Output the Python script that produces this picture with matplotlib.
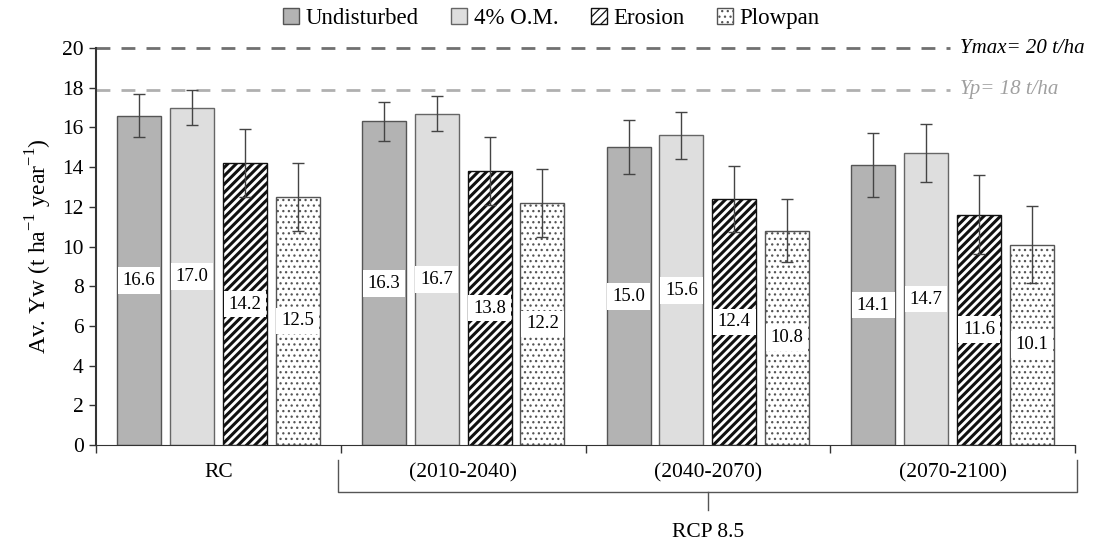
import numpy as np
import matplotlib
matplotlib.use("Agg")
import matplotlib.pyplot as plt

plt.rcParams["font.family"] = ["Liberation Serif", "DejaVu Serif"]
plt.rcParams["mathtext.fontset"] = "custom"
plt.rcParams["mathtext.rm"] = "Liberation Serif"

groups = ["RC", "(2010-2040)", "(2040-2070)", "(2070-2100)"]
series = ["Undisturbed", "4% O.M.", "Erosion", "Plowpan"]
undisturbed = [16.6, 16.3, 15.0, 14.1]
organic = [17.0, 16.7, 15.6, 14.7]
erosion = [14.2, 13.8, 12.4, 11.6]
plowpan = [12.5, 12.2, 10.8, 10.1]
err_und = [1.1, 1.0, 1.35, 1.6]
err_om = [0.9, 0.9, 1.2, 1.45]
err_ero = [1.7, 1.7, 1.65, 2.0]
err_plow = [1.7, 1.7, 1.6, 1.95]

values = [undisturbed, organic, erosion, plowpan]
errors = [err_und, err_om, err_ero, err_plow]
fills = ["#b3b3b3", "#dedede", "white", "white"]
edges = ["#555555", "#666666", "#111111", "#555555"]
hatches = [None, None, "////", "..."]
hatch_lw = [1.0, 1.0, 2.2, 0.9]

fig = plt.figure(figsize=(10.94, 5.45), dpi=100)
ax = fig.add_axes([0.0878, 0.1835, 0.8948, 0.7284])

x = np.arange(len(groups))
step = 0.216
width = 0.18
handles = []
for k in range(4):
    plt.rcParams["hatch.linewidth"] = hatch_lw[k]
    pos = x + (k - 1.5) * step
    b = ax.bar(pos, values[k], width, color=fills[k], edgecolor=edges[k],
               hatch=hatches[k], linewidth=1.0, label=series[k], zorder=2)
    handles.append(b)
    ax.errorbar(pos, values[k], yerr=errors[k], fmt="none", ecolor="#444444",
                elinewidth=1.0, capsize=4, capthick=1.0, zorder=3)
    for px, v in zip(pos, values[k]):
        ax.text(px, v / 2, f"{v:.1f}", ha="center", va="center", fontsize=13.5,
                zorder=4, bbox=dict(facecolor="white", edgecolor="none", pad=3.5))

# reference lines
ax.plot([-0.5, 2.99], [20, 20], color="#707070", lw=2, ls=(0, (5, 4)), zorder=1, clip_on=False)
ax.plot([-0.5, 2.99], [17.9, 17.9], color="#b0b0b0", lw=2, ls=(0, (5, 4)), zorder=1)
ax.text(3.03, 20, "Ymax= 20 t/ha", style="italic", fontsize=15, va="center", ha="left")
ax.text(3.03, 17.9, "Yp= 18 t/ha", style="italic", fontsize=15, va="center", ha="left",
        color="#a0a0a0")

ax.set_xlim(-0.5, 3.5)
ax.set_ylim(0, 20)
ax.set_yticks(range(0, 21, 2))
ax.tick_params(axis="y", labelsize=15.5, length=5, width=1, color="#333333", pad=4)
ax.set_xticks([-0.5, 0.5, 1.5, 2.5, 3.5])
ax.set_xticklabels([])
ax.tick_params(axis="x", length=6, width=1, color="#333333")
for s in ["top", "right"]:
    ax.spines[s].set_visible(False)
ax.spines["left"].set_color("#333333")
ax.spines["left"].set_linewidth(1.5)
ax.spines["bottom"].set_color("#333333")
ax.set_ylabel("Av. Yw (t ha$^{-1}$ year$^{-1}$)", fontsize=17, labelpad=6)

# group labels and bracket
tr = ax.get_xaxis_transform()
for gx, g in zip(x, groups):
    ax.text(gx, -0.07, g, transform=tr, ha="center", va="center", fontsize=15.5)
ax.plot([0.49, 0.49, 3.51, 3.51], [-0.038, -0.118, -0.118, -0.038], transform=tr,
        color="#555555", lw=1, clip_on=False)
ax.plot([2.0, 2.0], [-0.118, -0.165], transform=tr, color="#555555", lw=1, clip_on=False)
ax.text(2.0, -0.22, "RCP 8.5", transform=tr, ha="center", va="center", fontsize=15.5)

fig.legend(handles=handles, labels=series, loc="center", bbox_to_anchor=(0.504, 0.966),
           ncol=4, frameon=False, fontsize=16.5, handlelength=0.7, handleheight=0.7,
           handletextpad=0.3, columnspacing=1.4)

fig.savefig("out.png", dpi=100)
